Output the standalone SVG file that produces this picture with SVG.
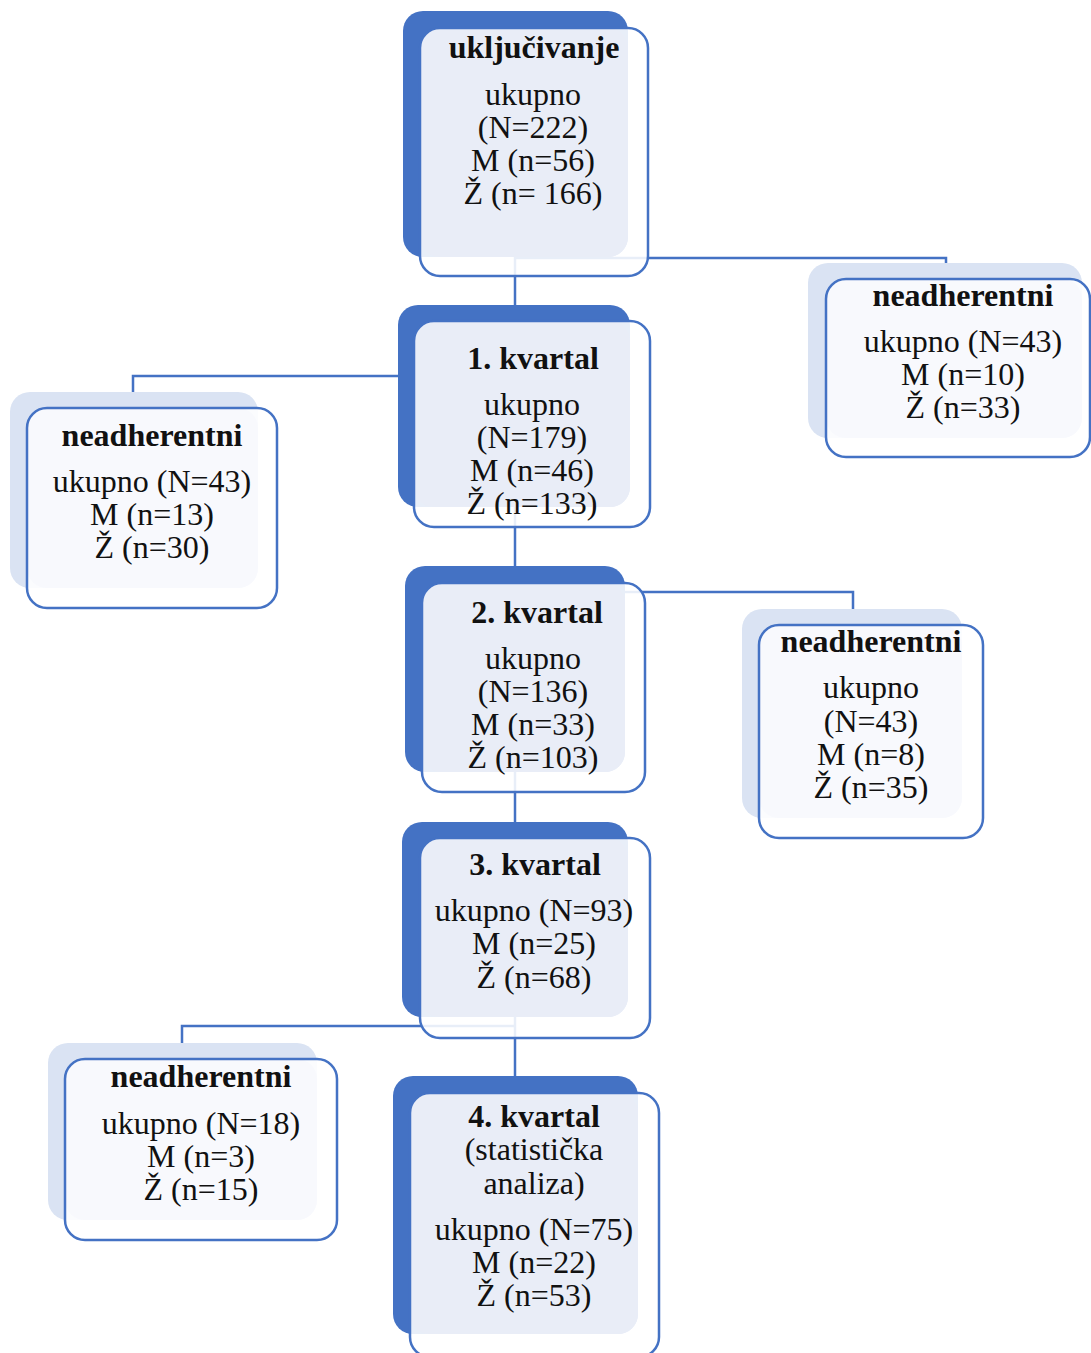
<svg xmlns="http://www.w3.org/2000/svg" width="1091" height="1353" viewBox="0 0 1091 1353">
<style>
.bd{fill:#4472c4}
.bl{fill:#dae3f3}
.fw{fill:#ffffff;fill-opacity:0.88}
.il{fill:#e9edf7}
.iw{fill:#f8f9fd}
.fs{fill:none;stroke:#4472c4;stroke-width:2.5}
.c{fill:none;stroke:#4472c4;stroke-width:2.5}
text{font-family:"Liberation Serif","Times New Roman",serif;font-size:32px;fill:#111;text-anchor:middle}
.t{font-weight:bold}
</style>
<rect width="1091" height="1353" fill="#ffffff"/>
<g id="connectors">
<path class="c" d="M515,257 V321"/>
<path class="c" d="M515,258 H946 V265"/>
<path class="c" d="M515,376 H133 V394"/>
<path class="c" d="M515,507 V568"/>
<path class="c" d="M515,592 H853 V611"/>
<path class="c" d="M515,772 V824"/>
<path class="c" d="M515,1026 H182 V1045"/>
<path class="c" d="M515,1017 V1078"/>
</g>
<g id="n-ukljucivanje">
<rect class="bd" x="403" y="11" width="225" height="246" rx="20"/>
<rect class="fw" x="420" y="28" width="228" height="248" rx="20"/>
<rect class="il" x="420" y="28" width="208" height="229" rx="20"/>
<rect class="fs" x="420" y="28" width="228" height="248" rx="20"/>
<text class="t" x="534" y="58">uključivanje</text>
<text x="533" y="105">ukupno</text>
<text x="533" y="138">(N=222)</text>
<text x="533" y="171">M (n=56)</text>
<text x="533" y="204">Ž (n= 166)</text>
</g>
<g id="n-neadh-1">
<rect class="bl" x="808" y="263" width="274" height="175" rx="20"/>
<rect class="fw" x="826" y="279" width="264" height="178" rx="20"/>
<rect class="iw" x="826" y="279" width="256" height="159" rx="20"/>
<rect class="fs" x="826" y="279" width="264" height="178" rx="20"/>
<text class="t" x="963" y="306">neadherentni</text>
<text x="963" y="352">ukupno (N=43)</text>
<text x="963" y="385">M (n=10)</text>
<text x="963" y="418">Ž (n=33)</text>
</g>
<g id="n-kvartal-1">
<rect class="bd" x="398" y="305" width="232" height="202" rx="20"/>
<rect class="fw" x="414" y="321" width="236" height="206" rx="20"/>
<rect class="il" x="414" y="321" width="216" height="186" rx="20"/>
<rect class="fs" x="414" y="321" width="236" height="206" rx="20"/>
<text class="t" x="533" y="369">1. kvartal</text>
<text x="532" y="415">ukupno</text>
<text x="532" y="448">(N=179)</text>
<text x="532" y="481">M (n=46)</text>
<text x="532" y="514">Ž (n=133)</text>
</g>
<g id="n-neadh-2">
<rect class="bl" x="10" y="392" width="248" height="196" rx="20"/>
<rect class="fw" x="27" y="408" width="250" height="200" rx="20"/>
<rect class="iw" x="27" y="408" width="231" height="180" rx="20"/>
<rect class="fs" x="27" y="408" width="250" height="200" rx="20"/>
<text class="t" x="152" y="446">neadherentni</text>
<text x="152" y="492">ukupno (N=43)</text>
<text x="152" y="525">M (n=13)</text>
<text x="152" y="558">Ž (n=30)</text>
</g>
<g id="n-kvartal-2">
<rect class="bd" x="405" y="566" width="220" height="206" rx="20"/>
<rect class="fw" x="422" y="583" width="223" height="209" rx="20"/>
<rect class="il" x="422" y="583" width="203" height="189" rx="20"/>
<rect class="fs" x="422" y="583" width="223" height="209" rx="20"/>
<text class="t" x="537" y="623">2. kvartal</text>
<text x="533" y="669">ukupno</text>
<text x="533" y="702">(N=136)</text>
<text x="533" y="735">M (n=33)</text>
<text x="533" y="768">Ž (n=103)</text>
</g>
<g id="n-neadh-3">
<rect class="bl" x="742" y="609" width="220" height="209" rx="20"/>
<rect class="fw" x="759" y="625" width="224" height="213" rx="20"/>
<rect class="iw" x="759" y="625" width="203" height="193" rx="20"/>
<rect class="fs" x="759" y="625" width="224" height="213" rx="20"/>
<text class="t" x="871" y="652">neadherentni</text>
<text x="871" y="698">ukupno</text>
<text x="871" y="732">(N=43)</text>
<text x="871" y="765">M (n=8)</text>
<text x="871" y="798">Ž (n=35)</text>
</g>
<g id="n-kvartal-3">
<rect class="bd" x="402" y="822" width="226" height="195" rx="20"/>
<rect class="fw" x="420" y="838" width="230" height="200" rx="20"/>
<rect class="il" x="420" y="838" width="208" height="179" rx="20"/>
<rect class="fs" x="420" y="838" width="230" height="200" rx="20"/>
<text class="t" x="535" y="875">3. kvartal</text>
<text x="534" y="921">ukupno (N=93)</text>
<text x="534" y="954">M (n=25)</text>
<text x="534" y="988">Ž (n=68)</text>
</g>
<g id="n-neadh-4">
<rect class="bl" x="48" y="1043" width="269" height="177" rx="20"/>
<rect class="fw" x="65" y="1059" width="272" height="181" rx="20"/>
<rect class="iw" x="65" y="1059" width="252" height="161" rx="20"/>
<rect class="fs" x="65" y="1059" width="272" height="181" rx="20"/>
<text class="t" x="201" y="1087">neadherentni</text>
<text x="201" y="1134">ukupno (N=18)</text>
<text x="201" y="1167">M (n=3)</text>
<text x="201" y="1200">Ž (n=15)</text>
</g>
<g id="n-kvartal-4">
<rect class="bd" x="393" y="1076" width="245" height="258" rx="20"/>
<rect class="fw" x="410" y="1093" width="249" height="264" rx="20"/>
<rect class="il" x="410" y="1093" width="228" height="241" rx="20"/>
<rect class="fs" x="410" y="1093" width="249" height="264" rx="20"/>
<text class="t" x="534" y="1127">4. kvartal</text>
<text x="534" y="1160">(statistička</text>
<text x="534" y="1194">analiza)</text>
<text x="534" y="1240">ukupno (N=75)</text>
<text x="534" y="1273">M (n=22)</text>
<text x="534" y="1306">Ž (n=53)</text>
</g>
</svg>
